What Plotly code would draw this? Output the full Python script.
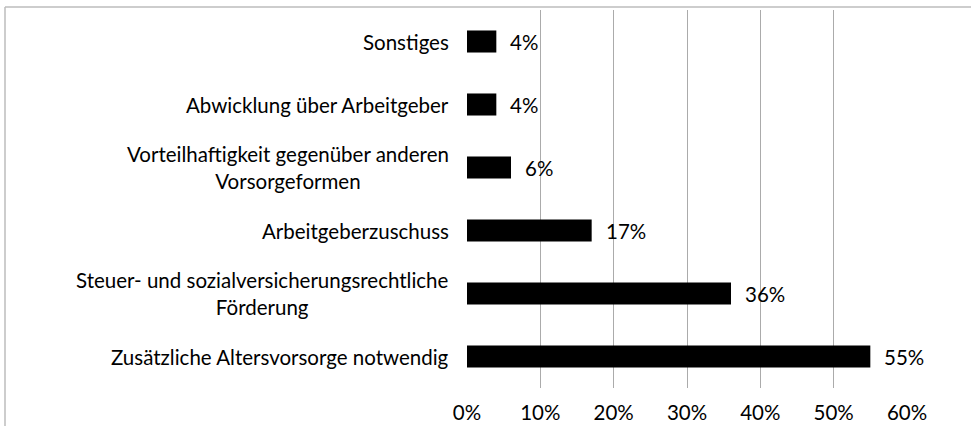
import plotly.graph_objects as go

# Categories from bottom to top, as drawn
categories = [
    "Zusätzliche Altersvorsorge notwendig",
    "Steuer- und sozialversicherungsrechtliche<br>Förderung",
    "Arbeitgeberzuschuss",
    "Vorteilhaftigkeit gegenüber anderen<br>Vorsorgeformen",
    "Abwicklung über Arbeitgeber",
    "Sonstiges",
]
shares = [0.55, 0.36, 0.17, 0.06, 0.04, 0.04]
x_ticks = [0, 0.1, 0.2, 0.3, 0.4, 0.5, 0.6]
x_tick_labels = ["0%", "10%", "20%", "30%", "40%", "50%", "60%"]

FONT = "Lato"
FS = 20.5
W, H = 971, 426
ML, MR, MT, MB = 467, 64, 10, 38

fig = go.Figure()
fig.add_trace(go.Bar(
    x=shares,
    y=categories,
    orientation="h",
    marker=dict(color="black", line=dict(width=0)),
    hoverinfo="x+y",
))

# value labels to the right of each bar
annotations = []
for cat, v in zip(categories, shares):
    annotations.append(dict(
        x=v, y=cat, xref="x", yref="y",
        text=f"{round(v * 100)}%",
        showarrow=False, xanchor="left", xshift=12,
        font=dict(family=FONT, size=FS, color="black"),
    ))
    # category labels, centred lines, right-aligned block
    annotations.append(dict(
        x=0, y=cat, xref="paper", yref="y",
        text=cat, align="center",
        showarrow=False, xanchor="right", xshift=-16,
        font=dict(family=FONT, size=FS, color="black"),
    ))

# light outer frame (left and top edges visible)
pw, ph = W - ML - MR, H - MT - MB
left_x = (5 - ML) / pw
top_y = (H - MB - 7) / ph
shapes = [
    dict(type="line", xref="paper", yref="paper", x0=left_x, x1=(W - ML) / pw + 0.1,
         y0=top_y, y1=top_y, line=dict(color="#bdbdbd", width=1.5)),
    dict(type="line", xref="paper", yref="paper", x0=left_x, x1=left_x,
         y0=top_y, y1=-0.2, line=dict(color="#bdbdbd", width=1.5)),
]

fig.update_layout(
    width=W, height=H,
    margin=dict(l=ML, r=MR, t=MT, b=MB, autoexpand=False),
    paper_bgcolor="white", plot_bgcolor="white",
    bargap=0.65,
    showlegend=False,
    annotations=annotations,
    shapes=shapes,
    font=dict(family=FONT, size=FS, color="black"),
    xaxis=dict(
        range=[0, 0.6], tickvals=x_ticks, ticktext=x_tick_labels,
        showgrid=True, gridcolor="#ababab", gridwidth=1.3,
        zeroline=False, showline=False, automargin=False,
        ticks="outside", ticklen=6, tickcolor="rgba(0,0,0,0)",
        tickfont=dict(family=FONT, size=FS, color="black"),
    ),
    yaxis=dict(
        showticklabels=False, showgrid=False, zeroline=False, showline=False,
        automargin=False,
    ),
)

fig.write_html(
    "out.html",
    config={"displayModeBar": False},
    post_script="document.body.style.margin='0';",
)
